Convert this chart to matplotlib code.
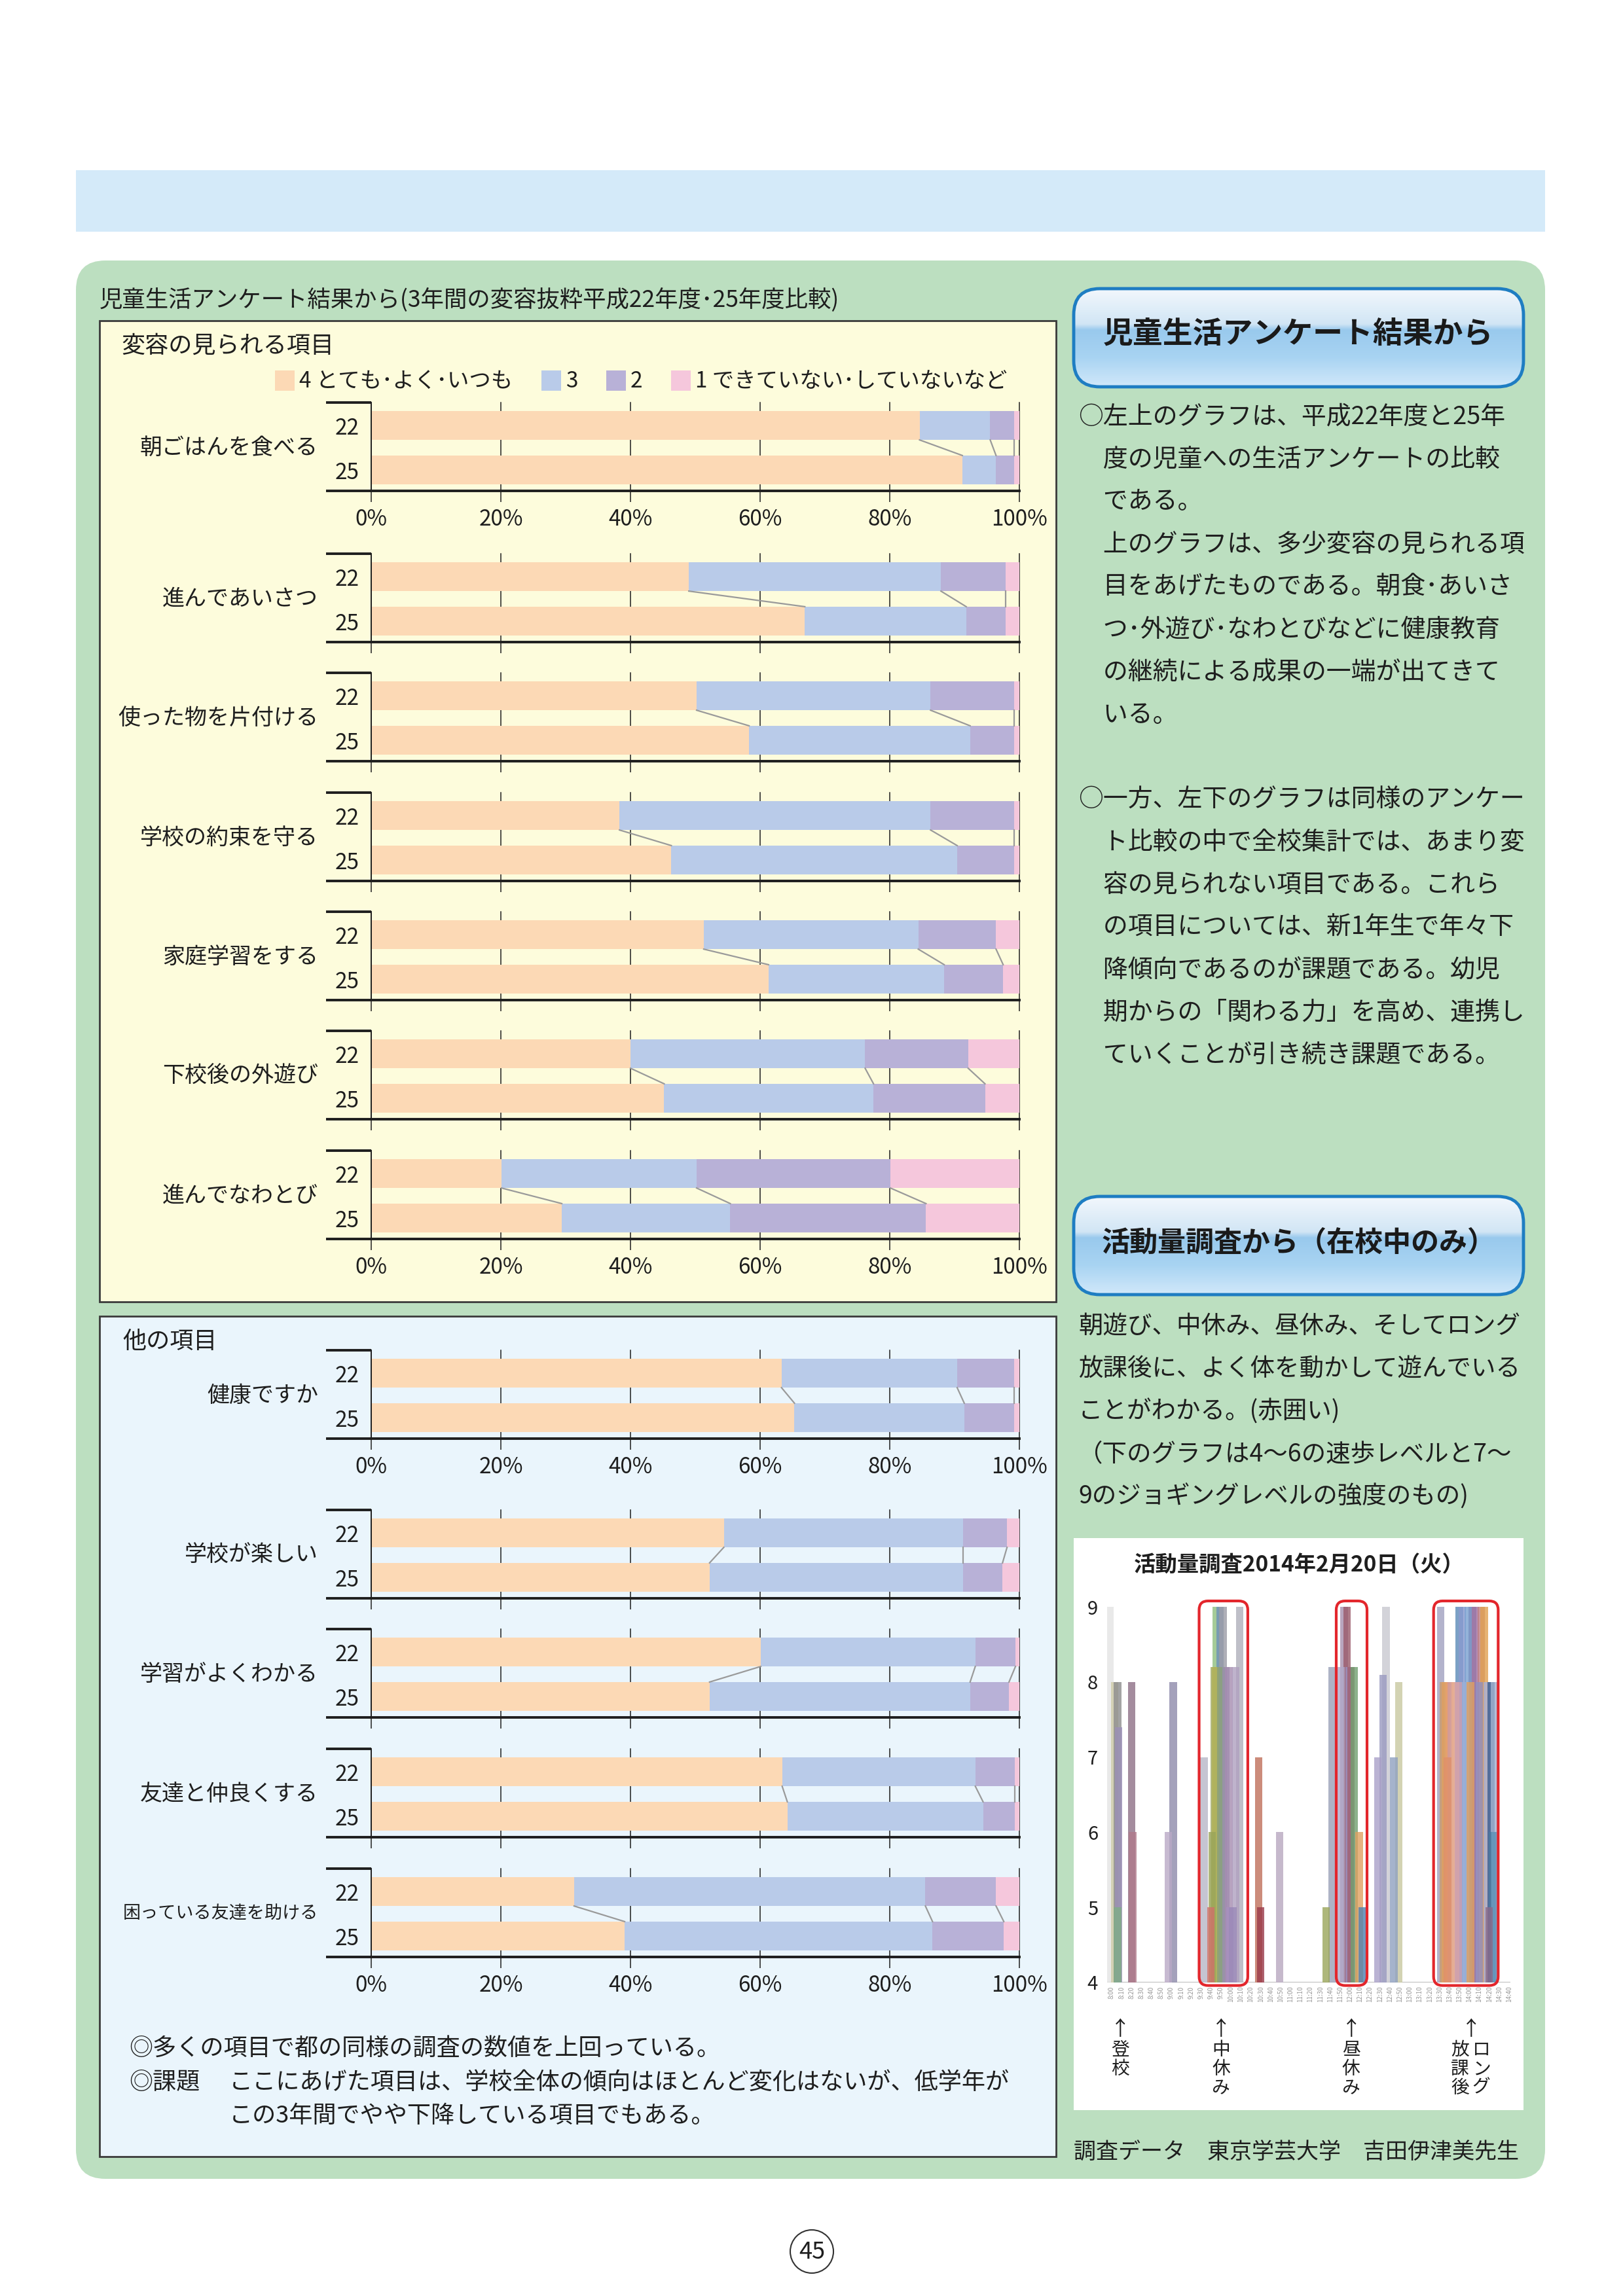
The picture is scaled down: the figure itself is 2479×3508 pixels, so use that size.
import numpy as np
import matplotlib
matplotlib.use('Agg')
import matplotlib.pyplot as plt
from matplotlib.patches import Rectangle, FancyBboxPatch, Circle
from matplotlib import transforms

plt.rcParams['font.family'] = ['Noto Sans CJK JP', 'DejaVu Sans']

# ---- survey data (percent of answers 4 / 3 / 2 / 1) ----
years = ['22', '25']
levels = ['4 とても･よく･いつも', '3', '2', '1 できていない･していないなど']
pct_labels = ['0%', '20%', '40%', '60%', '80%', '100%']

top_items = ['朝ごはんを食べる', '進んであいさつ', '使った物を片付ける', '学校の約束を守る',
             '家庭学習をする', '下校後の外遊び', '進んでなわとび']
top_22 = [[84.6, 10.9, 3.7, 0.8], [49.0, 38.9, 10.0, 2.1], [50.2, 36.1, 12.9, 0.8],
          [38.3, 48.0, 12.9, 0.8], [51.3, 33.1, 12.0, 3.6], [40.0, 36.2, 15.9, 7.9],
          [20.1, 30.1, 29.9, 19.9]]
top_25 = [[91.2, 5.2, 2.8, 0.8], [66.9, 24.9, 6.1, 2.1], [58.3, 34.1, 6.8, 0.8],
          [46.3, 44.1, 8.8, 0.8], [61.3, 27.1, 9.1, 2.5], [45.2, 32.3, 17.2, 5.3],
          [29.4, 26.0, 30.2, 14.4]]

bottom_items = ['健康ですか', '学校が楽しい', '学習がよくわかる', '友達と仲良くする', '困っている友達を助ける']
bottom_22 = [[63.3, 27.1, 8.8, 0.8], [54.4, 36.9, 6.8, 1.9], [60.1, 33.1, 6.2, 0.6],
             [63.4, 29.8, 6.1, 0.7], [31.3, 54.2, 10.9, 3.6]]
bottom_25 = [[65.3, 26.2, 7.7, 0.8], [52.2, 39.1, 6.1, 2.6], [52.2, 40.2, 6.0, 1.6],
             [64.2, 30.2, 4.9, 0.7], [39.1, 47.5, 11.0, 2.4]]

# ---- activity survey (time slot index, intensity level) ----
act_times = ['8:00', '8:10', '8:20', '8:30', '8:40', '8:50', '9:00', '9:10', '9:20', '9:30',
             '9:40', '9:50', '10:00', '10:10', '10:20', '10:30', '10:40', '10:50', '11:00', '11:10',
             '11:20', '11:30', '11:40', '11:50', '12:00', '12:10', '12:20', '12:30', '12:40', '12:50',
             '13:00', '13:10', '13:20', '13:30', '13:40', '13:50', '14:00', '14:10', '14:20', '14:30',
             '14:40']
act_slot = [-0.15, 0.3, 0.6, 0.7, 0.6, 2.0, 2.1, 5.7, 6.2,
            9.3, 10.0, 10.1, 10.3, 10.45, 10.5, 10.9, 11.0, 11.2, 11.5, 11.8, 11.9, 12.2, 12.5, 12.9,
            14.8, 15.0, 16.9,
            21.6, 22.2, 23.1, 23.4, 23.7, 23.9, 24.1, 24.4, 24.9, 25.2,
            26.8, 27.3, 27.6, 28.4, 28.9,
            33.1, 33.4, 33.6, 33.8, 34.0, 34.2, 34.6, 34.9, 35.0, 35.3, 35.6, 35.9, 36.1, 36.3,
            36.6, 37.0, 37.2, 37.5, 37.8, 38.2, 38.3, 38.0, 38.5, 38.6]
act_level = [9, 8, 8, 7.4, 5, 8, 6, 6, 8,
             7, 5, 6, 8.2, 8.2, 9, 9, 8.2, 9, 8.2, 8.2, 5, 5, 8.2, 9,
             7, 5, 6,
             5, 8.2, 8.2, 9, 9, 8.2, 8.2, 8.2, 6, 5,
             7, 8.1, 9, 7, 8,
             9, 8, 8, 7, 8, 8, 8, 8, 9, 9, 8, 9, 8, 9,
             9, 8, 9, 9, 8, 8, 6, 5, 8, 6]
act_color = ['#e4e4e4', '#cfcca8', '#8c8c8c', '#9b8fb8', '#7fae87', '#8e6f86', '#b07a8a', '#b9a9c6', '#8d8aaa',
             '#b7b7c7', '#d0706a', '#9aa55a', '#a0a860', '#b4b45a', '#8fbf7f', '#6f8fb8', '#8aa07a', '#9a9aa5',
             '#9a8fb0', '#a58cb0', '#a890c0', '#9b8ab8', '#b0a0c0', '#b0b0bb',
             '#c0705a', '#9a3a4a', '#b8a8c0',
             '#9aa55a', '#9aa0b8', '#b0a8c8', '#a890b0', '#9a5a6a', '#9a90c0', '#a06070', '#6f9f6f',
             '#e0a060', '#4f80b0',
             '#a9a0c8', '#9a9ac0', '#c8c8d0', '#8fa0c0', '#c8c8a0',
             '#a0a0c0', '#c89a70', '#e0a060', '#e0906a', '#e8a070', '#d09aa0', '#e8b090', '#d0a0b0',
             '#5a8ab8', '#8a9ad0', '#9ab0d8', '#7aa0d0', '#e0a060', '#7a90c0', '#a070a0', '#9090c0',
             '#c08080', '#e0a050', '#a8b0d8', '#3a5a8a', '#4a7aa0', '#8a6a8a', '#a0b0d0', '#6a9ac0']
highlight_slots = [(8.8, 13.7), (22.6, 25.7), (32.4, 38.9)]

level_colors = ['#FCD9B5', '#B9CBE9', '#B8B1D7', '#F5C7DC']
ink = '#1e1e1e'

W, H = 2479, 3508
fig = plt.figure(figsize=(W / 100, H / 100), dpi=100)
fig.patch.set_facecolor('white')
bg = fig.add_axes([0, 0, 1, 1])
bg.set_xlim(0, W)
bg.set_ylim(H, 0)
bg.set_autoscale_on(False)
bg.axis('off')


def frac(x0, y0, x1, y1):
    return [x0 / W, 1 - y1 / H, (x1 - x0) / W, (y1 - y0) / H]


# page background shapes
bg.add_patch(Rectangle((116, 260), 2244, 94, fc='#D4EAF9', ec='none'))
bg.add_patch(FancyBboxPatch((116, 398), 2244, 2931, boxstyle='round,pad=0,rounding_size=45',
                            fc='#BCDFC0', ec='none'))
bg.add_patch(Rectangle((152, 490), 1461, 1499, fc='#FDFCDC', ec='#3a3a3a', lw=2))
bg.add_patch(Rectangle((152, 2011), 1461, 1284, fc='#EAF5FC', ec='#3a3a3a', lw=2))
bg.add_patch(Rectangle((1640, 2350), 687, 874, fc='white', ec='none'))

bg.text(152, 459, '児童生活アンケート結果から(3年間の変容抜粋平成22年度･25年度比較)',
        fontsize=25.5, va='center', ha='left', color=ink)
bg.text(185, 529, '変容の見られる項目', fontsize=26, va='center', color=ink)
bg.text(187, 2050, '他の項目', fontsize=26, va='center', color=ink)

# legend
for lx, lab, col in zip([420, 827, 926, 1025], levels, level_colors):
    bg.add_patch(Rectangle((lx, 566), 30, 31, fc=col, ec='none'))
    bg.text(lx + 37, 582, lab, fontsize=24, va='center', ha='left', color=ink)


def bar_chart(top, label, v22, v25, show):
    ax = fig.add_axes(frac(567, top, 1557, top + 135))
    ax.patch.set_alpha(0)
    ax.set_xlim(0, 100)
    ax.set_ylim(1.47, -0.515)
    for row, vals in enumerate((v22, v25)):
        lefts = np.concatenate([[0], np.cumsum(vals)[:-1]])
        ax.barh([row] * 4, vals, left=lefts, height=0.65, color=level_colors, zorder=2, linewidth=0)
    for a, b in zip(np.cumsum(v22)[:3], np.cumsum(v25)[:3]):
        ax.plot([a, b], [0.325, 0.675], color='#9a9a9a', lw=1.6, zorder=3)
    for g in (20, 40, 60, 80, 100):
        ax.axvline(g, color=ink, lw=1.1, zorder=1, clip_on=False)
    for s in ('top', 'right'):
        ax.spines[s].set_visible(False)
    ax.spines['left'].set_linewidth(1.4)
    ax.spines['left'].set_color(ink)
    ax.spines['bottom'].set_linewidth(2.8)
    ax.spines['bottom'].set_color(ink)
    ax.set_xticks([0, 20, 40, 60, 80, 100])
    ax.set_xticklabels(pct_labels)
    ax.tick_params(axis='x', direction='out', length=12, width=1.1, color=ink,
                   labelsize=24, pad=7, labelbottom=show, labelcolor=ink)
    ax.set_yticks([0, 1])
    ax.set_yticklabels(years)
    ax.tick_params(axis='y', length=0, pad=13, labelsize=24, labelcolor=ink)
    ext = -69 / 990 * 100
    for yy in (1.47, -0.515):
        ax.plot([ext, 0], [yy, yy], lw=2.8, color=ink, clip_on=False, solid_capstyle='butt')
    fs = 24.5 if len(label) <= 9 else 19.5
    ax.text(-8.2, 0.5, label, ha='right', va='center', fontsize=fs, color=ink)


top_tops = [615, 846, 1028, 1211, 1393, 1575, 1758]
for i, top in enumerate(top_tops):
    bar_chart(top, top_items[i], top_22[i], top_25[i], i in (0, len(top_tops) - 1))

bottom_tops = [2063, 2307, 2489, 2672, 2855]
for i, top in enumerate(bottom_tops):
    bar_chart(top, bottom_items[i], bottom_22[i], bottom_25[i], i in (0, len(bottom_tops) - 1))

bg.text(197, 3130, '◎多くの項目で都の同様の調査の数値を上回っている。', fontsize=26, va='center', color=ink)
bg.text(197, 3182, '◎課題', fontsize=26, va='center', color=ink)
bg.text(350, 3182, 'ここにあげた項目は、学校全体の傾向はほとんど変化はないが、低学年が',
        fontsize=26, va='center', color=ink)
bg.text(350, 3233, 'この3年間でやや下降している項目でもある。', fontsize=26, va='center', color=ink)


# ---- right column ----
def header(x0, y0, x1, y1, text, fs):
    p = FancyBboxPatch((x0, y0), x1 - x0, y1 - y0, boxstyle='round,pad=0,rounding_size=40',
                       fc='none', ec='#1E7DC2', lw=3.5, zorder=3)
    bg.add_patch(p)
    stops = np.array([0, 0.36, 0.42, 0.7, 1.0])
    cols = np.array([[0.95, 0.97, 0.99], [0.82, 0.90, 0.96], [0.60, 0.79, 0.93],
                     [0.66, 0.83, 0.95], [0.82, 0.91, 0.98]])
    t = np.linspace(0, 1, 200)
    grad = np.stack([np.interp(t, stops, cols[:, k]) for k in range(3)], axis=1)[:, None, :]
    im = bg.imshow(grad, extent=(x0, x1, y1, y0), aspect='auto', zorder=2, interpolation='bilinear')
    im.set_clip_path(p)
    bg.text((x0 + x1) / 2, (y0 + y1) / 2 - 4, text, fontsize=fs, fontweight='bold',
            ha='center', va='center', zorder=4, color='#1a1a1a')


header(1640, 441, 2327, 591, '児童生活アンケート結果から', 33)
header(1640, 1828, 2327, 1978, '活動量調査から（在校中のみ）', 31)

note1 = ['○左上のグラフは、平成22年度と25年',
         '　度の児童への生活アンケートの比較',
         '　である。',
         '　上のグラフは、多少変容の見られる項',
         '　目をあげたものである。朝食･あいさ',
         '　つ･外遊び･なわとびなどに健康教育',
         '　の継続による成果の一端が出てきて',
         '　いる。',
         '',
         '○一方、左下のグラフは同様のアンケー',
         '　ト比較の中で全校集計では、あまり変',
         '　容の見られない項目である。これら',
         '　の項目については、新1年生で年々下',
         '　降傾向であるのが課題である。幼児',
         '　期からの「関わる力」を高め、連携し',
         '　ていくことが引き続き課題である。']
for i, line in enumerate(note1):
    bg.text(1647, 637 + i * 65, line, fontsize=27.3, va='center', ha='left', color=ink)

note2 = ['朝遊び、中休み、昼休み、そしてロング',
         '放課後に、よく体を動かして遊んでいる',
         'ことがわかる。(赤囲い)',
         '（下のグラフは4～6の速歩レベルと7～',
         '9のジョギングレベルの強度のもの)']
for i, line in enumerate(note2):
    bg.text(1647, 2027 + i * 65, line, fontsize=27, va='center', ha='left', color=ink)

bg.text(1984, 2392, '活動量調査2014年2月20日（火）', fontsize=24, fontweight='bold',
        ha='center', va='center', color=ink)

# activity chart
ax_a = fig.add_axes(frac(1691, 2430, 2307, 3029))
ax_a.patch.set_alpha(0)
ax_a.set_xlim(-0.46, 40.13)
ax_a.set_ylim(4, 9.22)
order = np.argsort(-np.array(act_level), kind='stable')
slots = np.array(act_slot)[order]
lv = np.array(act_level)[order]
cs = [act_color[k] for k in order]
ax_a.bar(slots, lv - 4, bottom=4, width=0.75, color=cs, alpha=0.8, linewidth=0, zorder=2)
ax_a.axhline(4, color='#bdbdbd', lw=1.5, zorder=1)
for s in ax_a.spines.values():
    s.set_visible(False)
ax_a.set_yticks([4, 5, 6, 7, 8, 9])
ax_a.set_yticklabels(['4', '5', '6', '7', '8', '9'])
ax_a.tick_params(axis='y', length=0, pad=10, labelsize=21, labelcolor=ink)
ax_a.set_xticks(range(len(act_times)))
ax_a.set_xticklabels(act_times, rotation=90, fontsize=7, color='#9a9a9a')
ax_a.tick_params(axis='x', length=0, pad=4)

for a, b in highlight_slots:
    ax_a.add_patch(FancyBboxPatch((a, 3.96), b - a, 9.08 - 3.96,
                                  boxstyle='round,pad=0,rounding_size=0.9',
                                  mutation_aspect=15.175 / 114.8, fill=False,
                                  ec='#E3262C', lw=3, clip_on=False, zorder=5))

blend = transforms.blended_transform_factory(ax_a.transData, bg.transData)
arrow_slots = [0.86, 11.0, 24.1, 36.2]
for sx in arrow_slots:
    ax_a.text(sx, 3101, '↑', transform=blend, fontsize=22, ha='center', va='center',
              color=ink, clip_on=False)
act_notes = ['登校', '中休み', '昼休み', 'ロング', '放課後']
note_slots = [0.86, 11.0, 24.1, 37.2, 35.05]
for word, sx in zip(act_notes, note_slots):
    for k, ch in enumerate(word):
        ax_a.text(sx, 3132 + k * 29, ch, transform=blend, fontsize=20, ha='center',
                  va='center', color=ink, clip_on=False)

bg.text(1640, 3289, '調査データ　東京学芸大学　吉田伊津美先生', fontsize=24.5, va='center',
        ha='left', color=ink)

# page number
bg.add_patch(Circle((1240, 3440), 33, fill=False, ec='#333333', lw=1.5))
bg.text(1240, 3441, '45', fontsize=26, ha='center', va='center', color=ink)

fig.savefig('out.png', dpi=100, facecolor='white')
